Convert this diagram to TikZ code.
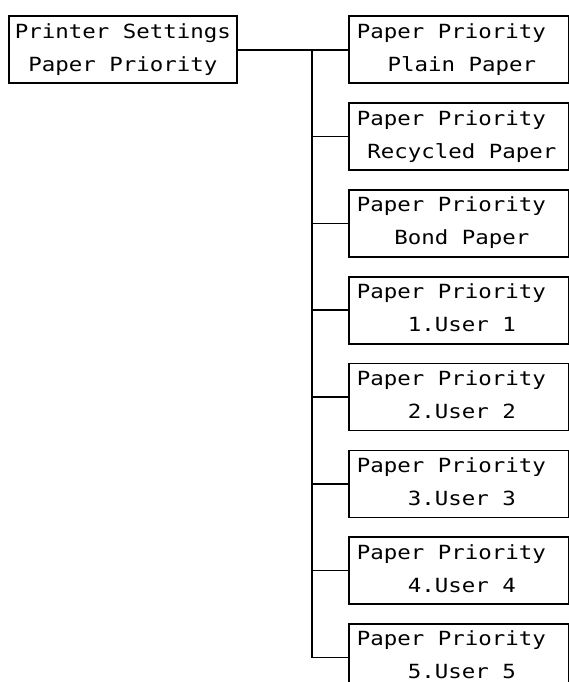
\documentclass[tikz,border=0pt]{standalone}
\usepackage{fontspec}
\newfontfamily\lcdfont[FakeStretch=1.15]{DejaVu Sans Mono}
\usetikzlibrary{calc}

% two-line panel text: first line left, second line centred
\newcommand{\panel}[2]{\rule{0pt}{15pt}\makebox[\linewidth][l]{#1}\\\makebox[\linewidth][c]{\hspace*{6pt}#2}\rule[-5pt]{0pt}{5pt}}

\begin{document}
\begin{tikzpicture}[
    x=1pt, y=-1pt,
    conn/.style={line width=1.6pt},
    lcdbox/.style={draw, line width=1.6pt, minimum height=67pt, inner ysep=0pt,
        font=\lcdfont\fontsize{19.5}{33}\selectfont,
        execute at begin node={\settowidth{\spaceskip}{0}\xspaceskip=\spaceskip}},
    menubox/.style={lcdbox, anchor=north west, minimum width=220pt,
        inner xsep=8pt, text width=204pt, align=center}
]

% 1. Page frame
\useasboundingbox (0,0) rectangle (569,682);
\clip (0,0) rectangle (569,682);

% 2. Parent menu
\node[lcdbox, anchor=north west, inner xsep=4pt, text width=220pt, align=center] (root) at (8,15.5)
    {\rule{0pt}{15pt}Printer Settings\\Paper Priority\rule[-5pt]{0pt}{5pt}};

% 3. Sub-menu panels
\foreach \txt [count=\i] in {Plain Paper, Recycled Paper, Bond Paper,
    1.User 1, 2.User 2, 3.User 3, 4.User 4, 5.User 5} {
    \node[menubox] (b\i) at (348, {15.5+86.8*(\i-1)}) {\panel{Paper Priority}{\txt}};
}

% 4. Tree connectors
\coordinate (split) at (root.east -| 312,0);
\draw[conn] (root.east) -- (b1.west);
\draw[conn] (split) |- (b8.west);
\foreach \i in {2,...,7} {
    \draw[conn] (split |- b\i.west) -- (b\i.west);
}

\end{tikzpicture}
\end{document}
